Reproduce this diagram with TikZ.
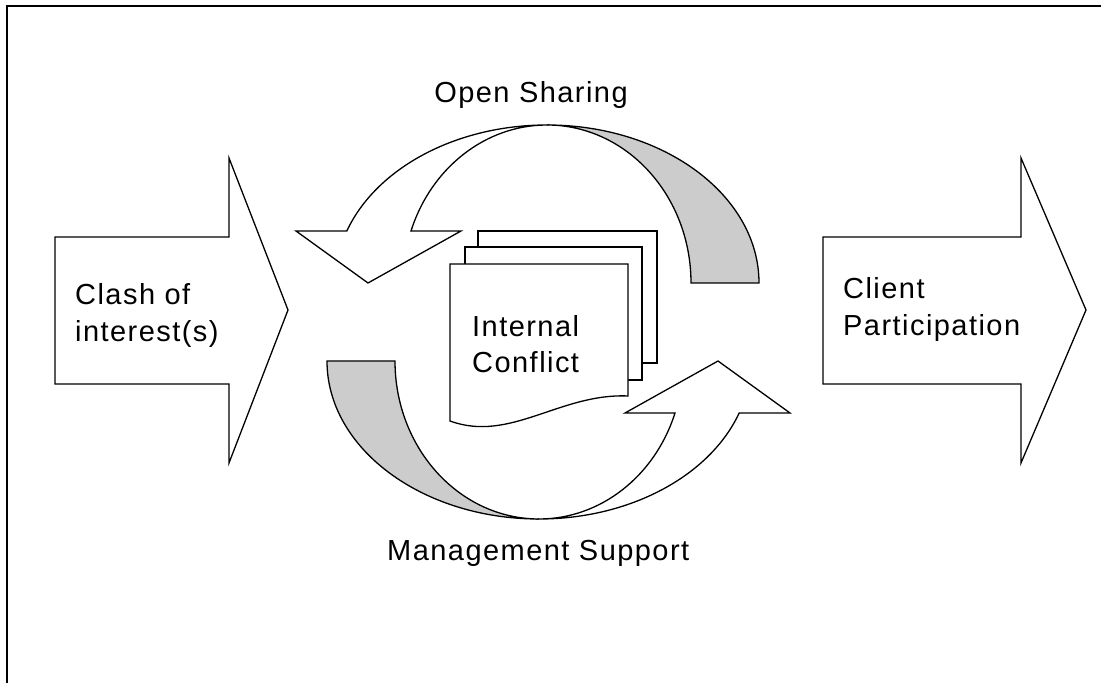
\documentclass[tikz,border=0pt]{standalone}
\usepackage{fontspec}
\setmainfont{Liberation Sans}[LetterSpace=5]
\definecolor{ribbon}{RGB}{204,204,204}
\begin{document}
\begin{tikzpicture}[x=1pt,y=1pt,line join=miter,
  outline/.style={draw=black,line width=1.3pt,fill=white},
  backside/.style={draw=black,line width=1.3pt,fill=ribbon},
  frame/.style={draw=black,line width=2.3pt},
  lbl/.style={inner sep=0pt,anchor=base west,font=\fontsize{29}{35}\selectfont},
  lblc/.style={lbl,anchor=base},
]
\useasboundingbox (0,0) rectangle (1101,683);

% page frame (left and top edges)
\draw[frame] (7.2,-5) -- (7.2,676.8) -- (1110,676.8);

% block arrows left and right
\path[outline] (55,446) -- (229,446) -- (229,525) -- (288,373) -- (229,220)
  -- (229,299) -- (55,299) -- cycle;
\path[outline] (823,446) -- (1021,446) -- (1021,525) -- (1086,373) -- (1021,220)
  -- (1021,299) -- (823,299) -- cycle;

% upper curved arrow, centre (547,400)
\path[backside] (759,400) arc[start angle=0,end angle=90,x radius=212,y radius=158]
  arc[start angle=90,end angle=0,x radius=144,y radius=158] -- cycle;
\path[outline] (547,558) arc[start angle=90,end angle=160.78,x radius=212,y radius=158]
  -- (296,452) -- (368,400) -- (461,452) -- (411,452)
  arc[start angle=160.78,end angle=90,x radius=144,y radius=158] -- cycle;

% lower curved arrow, centre (539,322)
\path[backside] (327,322) arc[start angle=180,end angle=270,x radius=212,y radius=158]
  arc[start angle=270,end angle=180,x radius=144,y radius=158] -- cycle;
\path[outline] (539,164) arc[start angle=270,end angle=340.78,x radius=212,y radius=158]
  -- (790,270) -- (718,322) -- (625,270) -- (675,270)
  arc[start angle=340.78,end angle=270,x radius=144,y radius=158] -- cycle;

% stack of documents
\path[outline] (478,320) rectangle (657,452);
\path[outline] (465,303) rectangle (642,436);
\path[outline] (450,262) -- (450,419) -- (628,419) -- (628,287)
  .. controls (560,290) and (510,240) .. (450,262) -- cycle;

% labels
\node[lblc] (open) at (531,580) {Open Sharing};
\node[lbl] (mgmt) at (387,122) {Management Support};
\node[lbl] (clash1) at (75,378) {Clash of};
\node[lbl] (clash2) at (75,341) {interest(s)};
\node[lbl] (client1) at (843,384) {Client};
\node[lbl] (client2) at (843,347) {Participation};
\node[lbl] (conf1) at (472,346) {Internal};
\node[lbl] (conf2) at (472,310) {Conflict};
\end{tikzpicture}
\end{document}
